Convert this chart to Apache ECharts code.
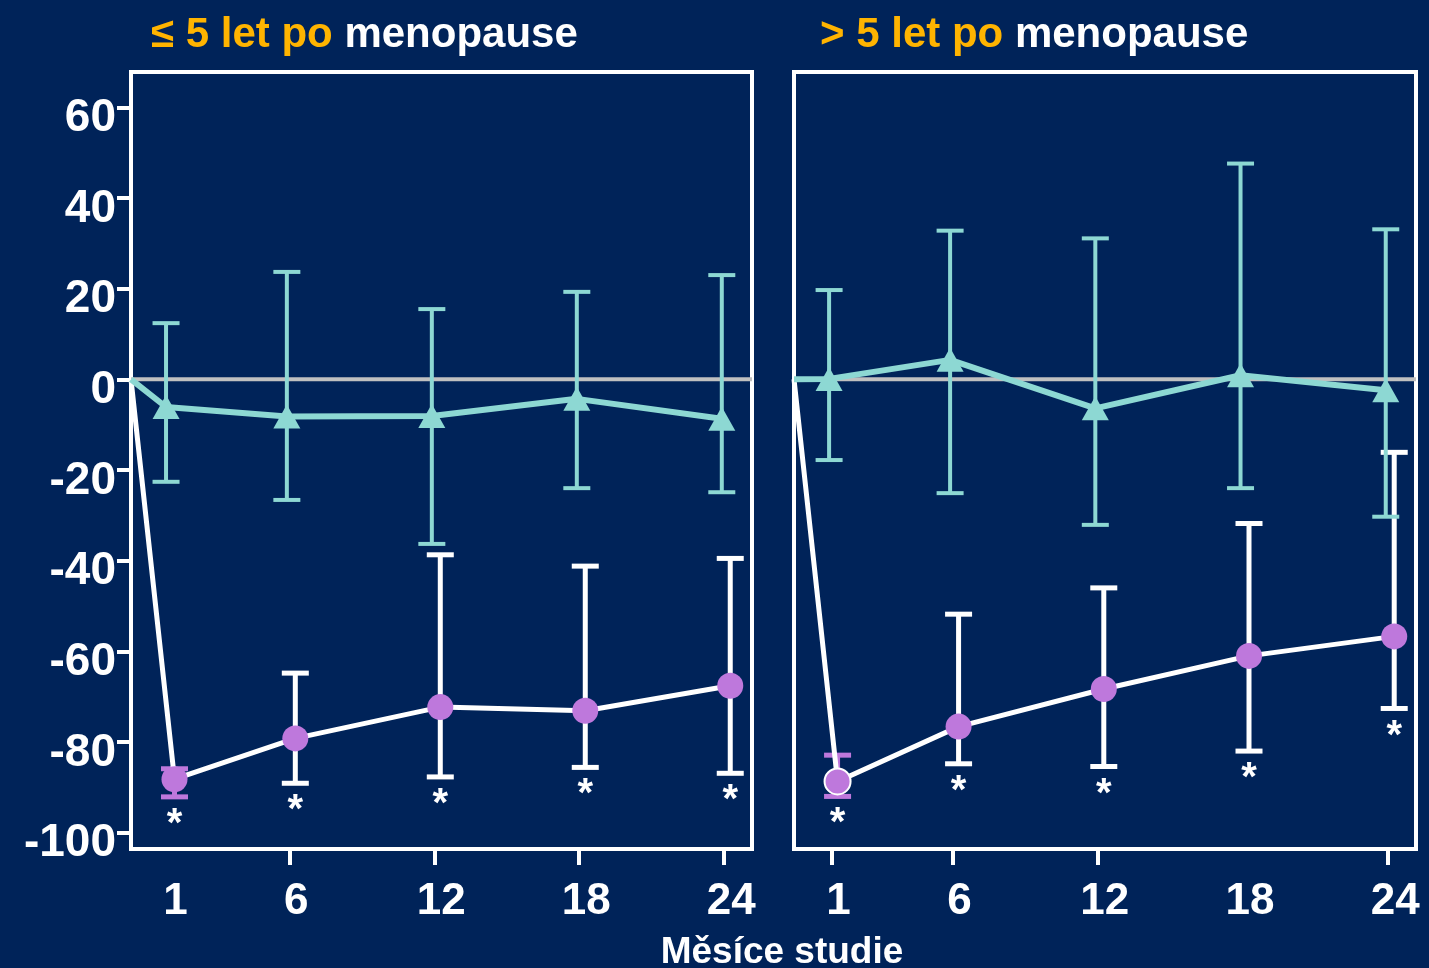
<!DOCTYPE html>
<html>
<head>
<meta charset="utf-8">
<script src="https://cdn.jsdelivr.net/npm/echarts@6/dist/echarts.min.js"></script>
<style>
  html, body { margin: 0; padding: 0; background: #002359; }
  #chart { width: 1429px; height: 968px; }
</style>
</head>
<body>
<div id="chart"></div>
<script>
// Study months at which both groups were measured
const months = [1, 6, 12, 18, 24];
const xLabelMonths = [1, 6, 12, 18, 24];
const xTickMonthsEarly = [6, 12, 18, 24];
const xTickMonthsLate = [1, 6, 12, 24];
const yTickValues = [-100, -80, -60, -40, -20, 0, 20, 40, 60];

// Panel headings (lead part in gold, tail in white)
const panelLeads = ['\u2264 5 let po', '> 5 let po'];
const panelTail = 'menopause';
const xAxisTitle = 'M\u011bs\u00edce studie';

// Both curves start from baseline (0 %) at the origin of the time axis
const baselineValue = 0;

// ≤ 5 let po menopause — teal group (mean, lower and upper whisker)
const earlyTealMean = [-6.1, -8.2, -8.1, -4.3, -8.7];
const earlyTealLow  = [-22.6, -26.6, -36.3, -24.0, -24.9];
const earlyTealHigh = [12.4, 23.7, 15.5, 19.3, 23.0];
// ≤ 5 let po menopause — violet group
const earlyVioletMean = [-88.2, -79.2, -72.3, -73.1, -67.6];
const earlyVioletLow  = [-92.1, -89.1, -87.7, -85.6, -86.9];
const earlyVioletHigh = [-85.9, -64.8, -38.7, -41.2, -39.5];
const earlyStars = ['*', '*', '*', '*', '*'];

// > 5 let po menopause — teal group
const lateTealMean = [0.1, 4.3, -6.4, 0.9, -2.4];
const lateTealLow  = [-17.8, -25.1, -32.1, -24.0, -30.3];
const lateTealHigh = [19.7, 32.8, 31.1, 47.6, 33.1];
// > 5 let po menopause — violet group
const lateVioletMean = [-88.7, -76.6, -68.3, -61.0, -56.7];
const lateVioletLow  = [-92.0, -84.8, -85.4, -82.0, -72.6];
const lateVioletHigh = [-82.9, -51.8, -46.0, -31.8, -16.1];
const lateStars = ['*', '*', '*', '*', '*'];

// ---- appearance ----
const FONT = "'Liberation Sans', Arial, Helvetica, sans-serif";
const BG = '#002359';
const TEAL = '#8DD8D3';
const VIOLET = '#BE78DC';
const GOLD = '#FFB400';
const X_MIN = -0.55, X_MAX = 25.15;
const Y_MIN = -103.6, Y_MAX = 67.8;
// small horizontal dodge (in months) so the two groups' whiskers do not coincide
const DODGE_TEAL = -0.1, DODGE_VIOLET = 0.25;

function whiskerRenderer(color, shortColor, capW, lineW, marks) {
  return function (params, api) {
    const x = api.value(0);
    const top = api.coord([x, api.value(2)]);
    const bot = api.coord([x, api.value(1)]);
    // whiskers short enough to hide behind the marker take the marker colour
    const c = (bot[1] - top[1]) < 50 ? shortColor : color;
    const st = { stroke: c, lineWidth: lineW };
    const children = [
      { type: 'line', shape: { x1: top[0], y1: top[1], x2: bot[0], y2: bot[1] }, style: st },
      { type: 'line', shape: { x1: top[0] - capW / 2, y1: top[1], x2: top[0] + capW / 2, y2: top[1] }, style: st },
      { type: 'line', shape: { x1: bot[0] - capW / 2, y1: bot[1], x2: bot[0] + capW / 2, y2: bot[1] }, style: st }
    ];
    if (marks && marks[params.dataIndex]) {
      children.push({
        type: 'text',
        style: {
          text: marks[params.dataIndex], x: bot[0], y: bot[1] + 28,
          fill: '#ffffff', font: 'bold 40px ' + FONT, align: 'center', verticalAlign: 'middle'
        }
      });
    }
    return { type: 'group', children };
  };
}

function panelSeries(g, teal, violet, ringFirst) {
  const tealPts = months.map((m, i) => [m + DODGE_TEAL, teal.mean[i]]);
  const violetPts = months.map((m, i) => {
    const item = { value: [m + DODGE_VIOLET, violet.mean[i]] };
    if (ringFirst && i === 0) item.itemStyle = { borderColor: '#ffffff', borderWidth: 2 };
    return item;
  });
  const common = { xAxisIndex: g, yAxisIndex: g, silent: true, animation: false };
  return [
    Object.assign({
      type: 'line', z: 1, symbol: 'none',
      data: [[X_MIN, 0], [X_MAX, 0]],
      lineStyle: { color: '#C0C0C0', width: 4 }
    }, common),
    Object.assign({
      type: 'custom', z: 2,
      renderItem: whiskerRenderer('#ffffff', VIOLET, 27, 5, violet.stars),
      encode: { x: 0, y: [1, 2] },
      data: months.map((m, i) => [m + DODGE_VIOLET, violet.low[i], violet.high[i]])
    }, common),
    Object.assign({
      type: 'line', z: 3,
      symbol: 'circle', symbolSize: 26, showAllSymbol: true,
      itemStyle: { color: VIOLET },
      lineStyle: { color: '#ffffff', width: 5 },
      data: [{ value: [X_MIN, baselineValue], symbol: 'none' }].concat(violetPts)
    }, common),
    Object.assign({
      type: 'custom', z: 4,
      renderItem: whiskerRenderer(TEAL, TEAL, 27, 4, null),
      encode: { x: 0, y: [1, 2] },
      data: months.map((m, i) => [m + DODGE_TEAL, teal.low[i], teal.high[i]])
    }, common),
    Object.assign({
      type: 'line', z: 5,
      symbol: 'triangle', symbolSize: [27, 24], showAllSymbol: true,
      itemStyle: { color: TEAL },
      lineStyle: { color: TEAL, width: 6 },
      data: [{ value: [X_MIN, baselineValue], symbol: 'none' }].concat(tealPts)
    }, common)
  ];
}

function xAxis(g, ticks) {
  return {
    type: 'value', gridIndex: g, min: X_MIN, max: X_MAX, position: 'bottom',
    axisLine: { show: false, onZero: false },
    splitLine: { show: false },
    axisTick: { show: true, customValues: ticks, length: 16, lineStyle: { color: '#ffffff', width: 4 } },
    axisLabel: {
      show: true, customValues: xLabelMonths, margin: 31, padding: [0, 0, 0, 14],
      color: '#ffffff', fontFamily: FONT, fontWeight: 'bold', fontSize: 44
    }
  };
}

function yAxis(g, visible) {
  return {
    type: 'value', gridIndex: g, min: Y_MIN, max: Y_MAX, position: 'left',
    axisLine: { show: false, onZero: false },
    splitLine: { show: false },
    axisTick: { show: visible, customValues: yTickValues, length: 14, lineStyle: { color: '#ffffff', width: 4 } },
    axisLabel: {
      show: visible, customValues: yTickValues, margin: 15,
      verticalAlign: 'top', lineHeight: 22,
      color: '#ffffff', fontFamily: FONT, fontWeight: 'bold', fontSize: 46
    }
  };
}

const titleRich = {
  a: { color: GOLD, fontFamily: FONT, fontWeight: 'bold', fontSize: 42, lineHeight: 42 },
  b: { color: '#ffffff', fontFamily: FONT, fontWeight: 'bold', fontSize: 42, lineHeight: 42 }
};

const gridBox = { show: true, borderColor: '#ffffff', borderWidth: 4, backgroundColor: 'transparent' };

const option = {
  backgroundColor: BG,
  animation: false,
  title: [
    { text: '{a|' + panelLeads[0] + ' }{b|' + panelTail + '}', left: 151, top: 14, padding: 0, textStyle: { rich: titleRich } },
    { text: '{a|' + panelLeads[1] + ' }{b|' + panelTail + '}', left: 820, top: 14, padding: 0, textStyle: { rich: titleRich } }
  ],
  graphic: [{
    type: 'text', x: 782, y: 953,
    style: { text: xAxisTitle, fill: '#ffffff', font: 'bold 37px ' + FONT, align: 'center', verticalAlign: 'middle' }
  }],
  grid: [
    Object.assign({ left: 131, top: 72, width: 621, height: 777 }, gridBox),
    Object.assign({ left: 794, top: 72, width: 622, height: 777 }, gridBox)
  ],
  xAxis: [xAxis(0, xTickMonthsEarly), xAxis(1, xTickMonthsLate)],
  yAxis: [yAxis(0, true), yAxis(1, false)],
  series: [].concat(
    panelSeries(0,
      { mean: earlyTealMean, low: earlyTealLow, high: earlyTealHigh },
      { mean: earlyVioletMean, low: earlyVioletLow, high: earlyVioletHigh, stars: earlyStars },
      false),
    panelSeries(1,
      { mean: lateTealMean, low: lateTealLow, high: lateTealHigh },
      { mean: lateVioletMean, low: lateVioletLow, high: lateVioletHigh, stars: lateStars },
      true)
  )
};

const chart = echarts.init(document.getElementById('chart'), null, { renderer: 'canvas' });
chart.setOption(option);
</script>
</body>
</html>
